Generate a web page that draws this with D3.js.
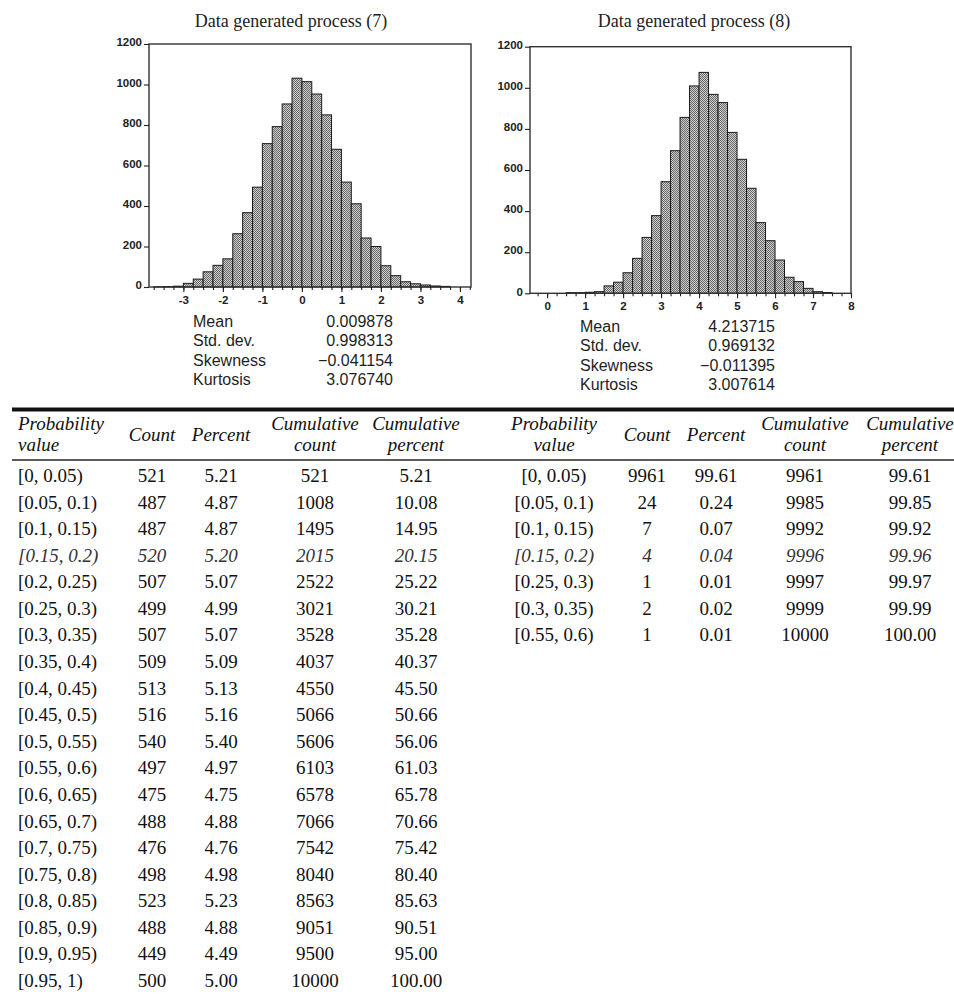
<!DOCTYPE html>
<html lang="en">
<head>
<meta charset="utf-8">
<title>Data generated process histograms</title>
<script src="https://cdnjs.cloudflare.com/ajax/libs/d3/7.8.5/d3.min.js"></script>
<style>
  body { margin: 0; background: #fff; }
  svg { display: block; }
</style>
</head>
<body>
<script>
// histogram bins (width 0.25), counts
var binWidth = 0.25;
var dgp7Start = -3.75;
var dgp7Counts = [1, 2, 4, 18, 39, 75, 107, 139, 263, 367, 493, 708, 792, 904, 1031,
                  1014, 953, 850, 680, 518, 411, 242, 200, 105, 56, 26, 16, 10, 5, 3];
var dgp8Start = 0.5;
var dgp8Counts = [3, 3, 5, 8, 36, 54, 100, 170, 272, 378, 543, 694, 856, 1009, 1075,
                  968, 928, 783, 652, 511, 344, 256, 162, 78, 57, 24, 8, 4];

var yTicks = [0, 200, 400, 600, 800, 1000, 1200];
var xTicks7 = [-3, -2, -1, 0, 1, 2, 3, 4];
var xTicks8 = [0, 1, 2, 3, 4, 5, 6, 7, 8];

var statNames = ["Mean", "Std. dev.", "Skewness", "Kurtosis"];
var stats7 = ["0.009878", "0.998313", "\u22120.041154", "3.076740"];
var stats8 = ["4.213715", "0.969132", "\u22120.011395", "3.007614"];

// frequency tables
var headers = [["Probability", "value"], ["Count"], ["Percent"], ["Cumulative", "count"], ["Cumulative", "percent"]];

var intervals7 = ["[0, 0.05)", "[0.05, 0.1)", "[0.1, 0.15)", "[0.15, 0.2)", "[0.2, 0.25)",
                  "[0.25, 0.3)", "[0.3, 0.35)", "[0.35, 0.4)", "[0.4, 0.45)", "[0.45, 0.5)",
                  "[0.5, 0.55)", "[0.55, 0.6)", "[0.6, 0.65)", "[0.65, 0.7)", "[0.7, 0.75)",
                  "[0.75, 0.8)", "[0.8, 0.85)", "[0.85, 0.9)", "[0.9, 0.95)", "[0.95, 1)"];
var count7 = [521, 487, 487, 520, 507, 499, 507, 509, 513, 516, 540, 497, 475, 488, 476, 498, 523, 488, 449, 500];
var percent7 = ["5.21", "4.87", "4.87", "5.20", "5.07", "4.99", "5.07", "5.09", "5.13", "5.16",
                "5.40", "4.97", "4.75", "4.88", "4.76", "4.98", "5.23", "4.88", "4.49", "5.00"];
var cumCount7 = [521, 1008, 1495, 2015, 2522, 3021, 3528, 4037, 4550, 5066,
                 5606, 6103, 6578, 7066, 7542, 8040, 8563, 9051, 9500, 10000];
var cumPercent7 = ["5.21", "10.08", "14.95", "20.15", "25.22", "30.21", "35.28", "40.37", "45.50", "50.66",
                   "56.06", "61.03", "65.78", "70.66", "75.42", "80.40", "85.63", "90.51", "95.00", "100.00"];

var intervals8 = ["[0, 0.05)", "[0.05, 0.1)", "[0.1, 0.15)", "[0.15, 0.2)", "[0.25, 0.3)", "[0.3, 0.35)", "[0.55, 0.6)"];
var count8 = [9961, 24, 7, 4, 1, 2, 1];
var percent8 = ["99.61", "0.24", "0.07", "0.04", "0.01", "0.02", "0.01"];
var cumCount8 = [9961, 9985, 9992, 9996, 9997, 9999, 10000];
var cumPercent8 = ["99.61", "99.85", "99.92", "99.96", "99.97", "99.99", "100.00"];

var w = 954, h = 1001;
var sans = "'Liberation Sans', Arial, sans-serif";
var serif = "'Liberation Serif', 'Times New Roman', serif";

var svg = d3.select("body").append("svg")
    .attr("width", w)
    .attr("height", h);

svg.append("rect").attr("width", w).attr("height", h).attr("fill", "#fff");

// dithered grey fill like the printed bars
var pat = svg.append("defs").append("pattern")
    .attr("id", "dots")
    .attr("width", 2).attr("height", 2)
    .attr("patternUnits", "userSpaceOnUse");
pat.append("rect").attr("width", 2).attr("height", 2).attr("fill", "#d0d0d0");
pat.append("rect").attr("width", 1).attr("height", 1).attr("fill", "#666");
pat.append("rect").attr("x", 1).attr("y", 1).attr("width", 1).attr("height", 1).attr("fill", "#666");

function histogram(opt) {
  var x = d3.scaleLinear().domain(opt.xDomain).range([opt.left, opt.right]);
  var y = d3.scaleLinear().domain([0, 1200]).range([opt.bottom, opt.top]);
  var g = svg.append("g");

  g.append("text")
    .attr("x", opt.titleX).attr("y", 27)
    .attr("text-anchor", "middle")
    .style("font-family", serif).style("font-size", "18px").attr("fill", "#222")
    .text(opt.title);

  var bins = opt.counts.map(function (c, i) {
    return { x0: opt.start + i * binWidth, x1: opt.start + (i + 1) * binWidth, n: c };
  });

  g.selectAll("rect.bar")
    .data(bins)
    .enter()
    .append("rect")
    .attr("class", "bar")
    .attr("x", function (d) { return x(d.x0); })
    .attr("y", function (d) { return y(d.n); })
    .attr("width", function (d) { return x(d.x1) - x(d.x0); })
    .attr("height", function (d) { return y(0) - y(d.n); })
    .attr("fill", "url(#dots)")
    .attr("stroke", "#1a1a1a")
    .attr("stroke-width", 1);

  g.append("rect")
    .attr("x", opt.left).attr("y", opt.top)
    .attr("width", opt.right - opt.left).attr("height", opt.bottom - opt.top)
    .attr("fill", "none").attr("stroke", "#333").attr("stroke-width", 1.4);

  // y axis
  var ya = g.append("g").attr("transform", "translate(" + opt.left + ",0)")
    .call(d3.axisLeft(y).tickValues(yTicks).tickSize(5).tickPadding(2).tickFormat(d3.format("d")));
  ya.select(".domain").remove();
  ya.selectAll("text").attr("dy", "0.15em");

  // x axis, minor ticks every 0.25
  var minor = d3.range(Math.ceil(opt.xDomain[0] / binWidth), Math.floor(opt.xDomain[1] / binWidth) + 1)
    .map(function (k) { return k * binWidth; });
  var xm = g.append("g").attr("transform", "translate(0," + opt.bottom + ")")
    .call(d3.axisBottom(x).tickValues(minor).tickSize(3).tickFormat(""));
  xm.select(".domain").remove();

  var xa = g.append("g").attr("transform", "translate(0," + opt.bottom + ")")
    .call(d3.axisBottom(x).tickValues(opt.xTicks).tickSize(5).tickPadding(4)
      .tickFormat(function (d) { return String(d); }));
  xa.select(".domain").remove();

  g.selectAll(".tick line").attr("stroke", "#222").attr("stroke-width", 1.1);
  g.selectAll(".tick text")
    .style("font-family", sans).style("font-size", "11.5px").style("font-weight", "bold")
    .attr("fill", "#222");

  // summary statistics
  var st = g.append("g");
  st.selectAll("text.name")
    .data(statNames)
    .enter()
    .append("text")
    .attr("class", "name")
    .attr("x", opt.statX)
    .attr("y", function (d, i) { return opt.statY + i * 19.4; })
    .text(function (d) { return d; });
  st.selectAll("text.val")
    .data(opt.stats)
    .enter()
    .append("text")
    .attr("class", "val")
    .attr("x", opt.statR)
    .attr("text-anchor", "end")
    .attr("y", function (d, i) { return opt.statY + i * 19.4; })
    .text(function (d) { return d; });
  st.selectAll("text")
    .style("font-family", sans).style("font-size", "16px").attr("fill", "#1e1e1e");
}

histogram({
  title: "Data generated process (7)", titleX: 291,
  left: 149, right: 471, top: 44, bottom: 287,
  xDomain: [-3.87, 4.28], xTicks: xTicks7,
  start: dgp7Start, counts: dgp7Counts,
  stats: stats7, statX: 193, statR: 393, statY: 327
});

histogram({
  title: "Data generated process (8)", titleX: 694,
  left: 530, right: 851, top: 46.7, bottom: 293.3,
  xDomain: [-0.45, 8.0], xTicks: xTicks8,
  start: dgp8Start, counts: dgp8Counts,
  stats: stats8, statX: 580, statR: 775, statY: 332
});

// tables
svg.append("line").attr("x1", 12).attr("x2", w).attr("y1", 409.5).attr("y2", 409.5)
  .attr("stroke", "#111").attr("stroke-width", 4);
svg.append("line").attr("x1", 12).attr("x2", w).attr("y1", 460).attr("y2", 460)
  .attr("stroke", "#222").attr("stroke-width", 1.6);

var rowY = d3.scalePoint().domain(d3.range(20)).range([482, 987]);

function table(opt) {
  var g = svg.append("g").style("font-family", serif).style("font-size", "19px").attr("fill", "#111");

  headers.forEach(function (lines, c) {
    var t = g.append("text")
      .attr("x", opt.cols[c])
      .attr("text-anchor", c === 0 ? opt.firstAnchor : "middle")
      .style("font-style", "italic");
    if (lines.length === 1) {
      t.attr("y", 441).text(lines[0]);
    } else {
      t.append("tspan").attr("x", opt.cols[c]).attr("y", 430).text(lines[0]);
      t.append("tspan").attr("x", opt.cols[c]).attr("y", 451).text(lines[1]);
    }
  });

  var columns = [opt.intervals, opt.count, opt.percent, opt.cumCount, opt.cumPercent];
  columns.forEach(function (vals, c) {
    g.selectAll("text.c" + c)
      .data(vals)
      .enter()
      .append("text")
      .attr("class", "c" + c)
      .attr("x", opt.cols[c])
      .attr("y", function (d, i) { return rowY(i); })
      .attr("text-anchor", c === 0 ? opt.firstAnchor : "middle")
      .style("font-style", function (d, i) { return i === 3 ? "italic" : null; })
      .attr("fill", function (d, i) { return i === 3 ? "#333" : "#111"; })
      .text(function (d) { return d; });
  });
}

table({
  cols: [18, 152, 221, 315, 416], firstAnchor: "start",
  intervals: intervals7, count: count7, percent: percent7, cumCount: cumCount7, cumPercent: cumPercent7
});

table({
  cols: [554, 647, 716, 805, 910], firstAnchor: "middle",
  intervals: intervals8, count: count8, percent: percent8, cumCount: cumCount8, cumPercent: cumPercent8
});
</script>
</body>
</html>
